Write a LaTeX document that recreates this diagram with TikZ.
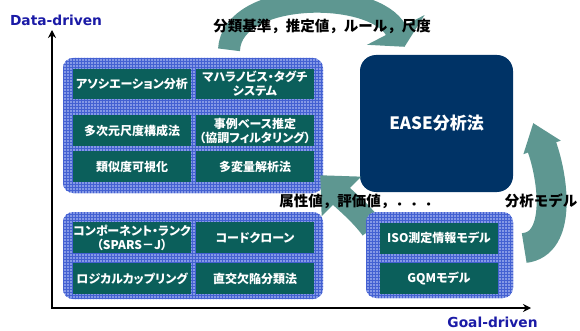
\documentclass[tikz,border=0pt]{standalone}
\usepackage{fontspec}
\setmainfont{DejaVu Sans}
\newfontfamily\jpfont[RawFeature=+palt]{Noto Sans CJK JP}
\newfontfamily\jpwide{Noto Sans CJK JP}
\usetikzlibrary{arrows.meta,patterns,calc}
\definecolor{cellteal}{HTML}{0B5F5B}
\definecolor{easenavy}{HTML}{003366}
\definecolor{gridbg}{HTML}{8599E6}
\definecolor{gridline}{HTML}{4461D2}
\definecolor{arrowteal}{HTML}{5E9791}
\definecolor{axisblue}{HTML}{1A1AA6}
\tikzset{
  group/.style={rounded corners=10pt,preaction={fill=gridbg},pattern=grid,pattern color=gridline,inner sep=0pt},
  cell/.style={fill=cellteal,text=white,font=\jpfont\bfseries\fontsize{12}{14}\selectfont,align=center,minimum width=118pt,minimum height=31pt,inner sep=0pt},
  axislabel/.style={text=axisblue,font=\bfseries\fontsize{13.8}{16}\selectfont,anchor=base,inner sep=0pt},
  flowlabel/.style={font=\jpwide\bfseries\fontsize{14.5}{16}\selectfont,anchor=base,inner sep=0pt},
  bigarrow/.style={draw=arrowteal,line width=#1}
}
\begin{document}
\begin{tikzpicture}[x=1pt,y=-1pt,>={Stealth[length=8pt,width=8pt]}]
\useasboundingbox (0,0) rectangle (580,331);
\def\coll{132} \def\colr{255}
% axes
\coordinate (ytop) at (52,30);
\coordinate (xend) at (531,308);
\draw[<->,line width=1.8pt] (ytop) |- (xend);
\node[axislabel] (dd) at (56,26) {Data-driven};
\node[axislabel] (gd) at (492.5,327) {Goal-driven};
% EASE
\node[fill=easenavy,rounded corners=16pt,minimum width=153pt,minimum height=137pt,text=white,font=\jpfont\bfseries\fontsize{17}{20}\selectfont] (ease) at (436.5,123.5) {EASE分析法};
% data-driven methods
\node[group,minimum width=260pt,minimum height=135pt] (dgrp) at (193,125.5) {};
\node[cell,minimum height=30pt] (a1) at (\coll,84) {アソシエーション分析};
\node[cell,minimum height=30pt] (a2) at (\colr,84) {マハラノビス・タグチ\\システム};
\node[cell] (a3) at (\coll,130.5) {多次元尺度構成法};
\node[cell] (a4) at (\colr,130.5) {事例ベース推定\\（協調フィルタリング）};
\node[cell] (a5) at (\coll,166.5) {類似度可視化};
\node[cell] (a6) at (\colr,166.5) {多変量解析法};
% flows
\draw[bigarrow=22pt,-{Triangle[length=19pt,width=64pt]}] ($(dgrp.north)+(36,-8)$) .. controls +(3,-60) and +(-30,-58) .. ($(ease.north)+(-32,-8)$);
\draw[bigarrow=24pt,-{Triangle[length=30pt,width=54pt]}] ($(dgrp.south east)+(49,35)$) .. controls +(-12,-16) and +(25,25) .. ($(dgrp.south east)+(-3,-18)$);
% goal-driven models
\node[group,minimum width=147pt,minimum height=86pt] (ggrp) at (439.5,255) {};
\node[cell] (c1) at (439,238) {ISO測定情報モデル};
\node[cell] (c2) at (439,278) {GQMモデル};
% source analysis methods
\node[group,minimum width=260pt,minimum height=87pt] (sgrp) at (193,255.5) {};
\node[cell] (b1) at (\coll,237.5) {コンポーネント・ランク\\（SPARS－J）};
\node[cell] (b2) at (\colr,237.5) {コードクローン};
\node[cell] (b3) at (\coll,278.5) {ロジカルカップリング};
\node[cell] (b4) at (\colr,278.5) {直交欠陥分類法};
\draw[bigarrow=30pt,-{Triangle[length=26pt,width=38pt]}] ($(ggrp.east)+(11,-7)$) .. controls +(38,-4) and +(20,55) .. ($(ease.east)+(20,-0.5)$);
% labels
\node[flowlabel] (l1) at (322,32) {分類基準，推定値，ルール，尺度};
\node[flowlabel] (l2) at (359,206) {属性値，評価値，．．．};
\node[flowlabel] (l3) at (541,206) {分析モデル};
\end{tikzpicture}
\end{document}
